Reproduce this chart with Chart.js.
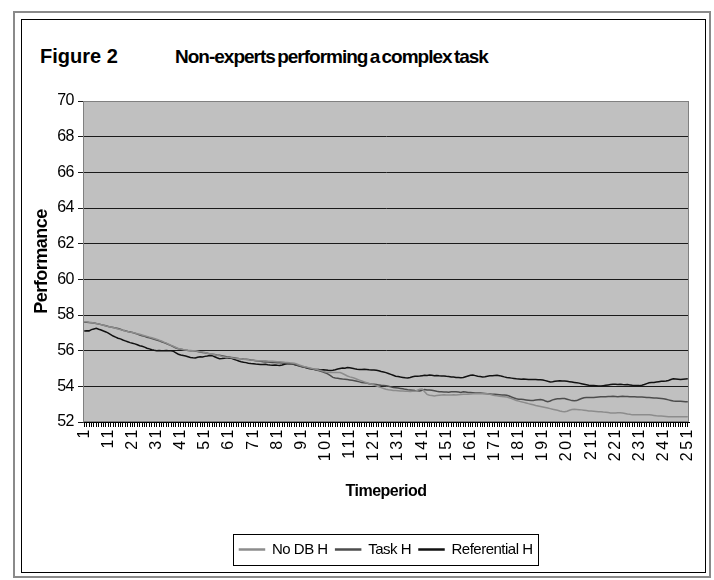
<!DOCTYPE html>
<html>
<head>
<meta charset="utf-8">
<script src="https://cdn.jsdelivr.net/npm/chart.js@4.4.1/dist/chart.umd.min.js"></script>
<style>
  html, body { margin: 0; padding: 0; background: #fff; }
  #wrap { position: relative; width: 714px; height: 580px; overflow: hidden; }
  #frameOuter { position: absolute; left: 13px; top: 11px; width: 694px; height: 563px; border: 2px solid #8a8a8a; }
  #frameInner { position: absolute; left: 21px; top: 19px; width: 683px; height: 552px; border: 1px solid #000; }
  .head { position: absolute; font-family: "Liberation Sans", Arial, sans-serif; font-weight: bold; color: #000; white-space: nowrap; }
  #fig { left: 40px; top: 45px; font-size: 20px; }
  #sub { left: 175px; top: 46px; font-size: 19px; letter-spacing: -1px; word-spacing: -2px; }
  #chart { position: absolute; left: 0; top: 0; }
</style>
</head>
<body>
<div id="wrap">
  <div id="frameOuter"></div>
  <div id="frameInner"></div>
  <div class="head" id="fig">Figure 2</div>
  <div class="head" id="sub">Non-experts performing a complex task</div>
  <canvas id="chart" width="714" height="580"></canvas>
</div>
<script>
const periods = Array.from({ length: 251 }, (_, i) => String(i + 1));
const shownPeriods = ["1", "11", "21", "31", "41", "51", "61", "71", "81", "91", "101", "111", "121",
  "131", "141", "151", "161", "171", "181", "191", "201", "211", "221", "231", "241", "251"];
const yTicks = [52, 54, 56, 58, 60, 62, 64, 66, 68, 70];
const seriesNames = ["No DB H", "Task H", "Referential H"];
const seriesColors = ["#8c8c8c", "#4d4d4d", "#111111"];

const noDbH = [
  57.62, 57.62, 57.60, 57.58, 57.55, 57.52, 57.49, 57.46, 57.42, 57.39,
  57.36, 57.33, 57.30, 57.26, 57.22, 57.18, 57.14, 57.10, 57.07, 57.04,
  57.02, 56.99, 56.95, 56.92, 56.88, 56.84, 56.80, 56.76, 56.72, 56.68,
  56.64, 56.59, 56.54, 56.48, 56.42, 56.36, 56.30, 56.24, 56.18, 56.12,
  56.09, 56.06, 56.04, 56.02, 56.01, 56.00, 56.00, 55.97, 55.94, 55.92,
  55.90, 55.86, 55.83, 55.80, 55.77, 55.74, 55.71, 55.68, 55.65, 55.62,
  55.61, 55.60, 55.58, 55.56, 55.55, 55.54, 55.52, 55.50, 55.49, 55.47,
  55.46, 55.45, 55.44, 55.44, 55.43, 55.44, 55.42, 55.41, 55.40, 55.39,
  55.38, 55.38, 55.37, 55.35, 55.34, 55.32, 55.31, 55.30, 55.25, 55.20,
  55.15, 55.11, 55.08, 55.05, 55.02, 54.98, 54.95, 54.92, 54.88, 54.84,
  54.80, 54.79, 54.78, 54.77, 54.77, 54.78, 54.77, 54.72, 54.65, 54.58,
  54.53, 54.50, 54.45, 54.40, 54.35, 54.30, 54.25, 54.20, 54.16, 54.12,
  54.08, 54.03, 53.98, 53.93, 53.88, 53.84, 53.81, 53.79, 53.77, 53.76,
  53.75, 53.74, 53.74, 53.73, 53.72, 53.71, 53.72, 53.72, 53.78, 53.84,
  53.85, 53.70, 53.55, 53.50, 53.48, 53.46, 53.48, 53.50, 53.52, 53.53,
  53.52, 53.51, 53.52, 53.53, 53.52, 53.53, 53.54, 53.55, 53.56, 53.56,
  53.57, 53.58, 53.58, 53.59, 53.58, 53.58, 53.58, 53.58, 53.55, 53.52,
  53.49, 53.47, 53.45, 53.43, 53.42, 53.40, 53.36, 53.31, 53.26, 53.21,
  53.17, 53.13, 53.10, 53.07, 53.03, 53.00, 52.97, 52.93, 52.90, 52.87,
  52.84, 52.81, 52.78, 52.75, 52.72, 52.69, 52.66, 52.62, 52.59, 52.57,
  52.60, 52.66, 52.70, 52.71, 52.70, 52.69, 52.68, 52.66, 52.64, 52.62,
  52.61, 52.60, 52.59, 52.58, 52.58, 52.56, 52.55, 52.53, 52.51, 52.50,
  52.51, 52.52, 52.52, 52.50, 52.48, 52.45, 52.43, 52.40, 52.40, 52.41,
  52.41, 52.40, 52.41, 52.40, 52.40, 52.39, 52.37, 52.35, 52.34, 52.33,
  52.32, 52.31, 52.30, 52.30, 52.30, 52.30, 52.30, 52.30, 52.30, 52.30,
  52.30
];

const taskH = [
  57.60, 57.60, 57.58, 57.57, 57.55, 57.52, 57.50, 57.46, 57.43, 57.40,
  57.36, 57.33, 57.30, 57.27, 57.24, 57.20, 57.15, 57.12, 57.08, 57.05,
  57.02, 56.98, 56.93, 56.88, 56.84, 56.80, 56.75, 56.72, 56.68, 56.64,
  56.60, 56.56, 56.50, 56.45, 56.40, 56.34, 56.28, 56.22, 56.15, 56.10,
  56.08, 56.05, 56.03, 56.01, 56.00, 55.99, 55.98, 55.95, 55.92, 55.90,
  55.88, 55.85, 55.82, 55.80, 55.78, 55.76, 55.75, 55.72, 55.69, 55.66,
  55.64, 55.62, 55.60, 55.58, 55.56, 55.55, 55.53, 55.52, 55.50, 55.48,
  55.46, 55.44, 55.42, 55.40, 55.38, 55.37, 55.36, 55.35, 55.34, 55.33,
  55.32, 55.32, 55.31, 55.30, 55.28, 55.26, 55.25, 55.24, 55.20, 55.15,
  55.10, 55.07, 55.05, 55.02, 54.99, 54.96, 54.92, 54.88, 54.84, 54.80,
  54.75, 54.68, 54.60, 54.50, 54.47, 54.45, 54.43, 54.41, 54.40, 54.38,
  54.36, 54.34, 54.31, 54.28, 54.25, 54.22, 54.20, 54.18, 54.15, 54.13,
  54.12, 54.10, 54.08, 54.06, 54.05, 54.03, 54.00, 53.97, 53.94, 53.92,
  53.90, 53.88, 53.86, 53.83, 53.81, 53.80, 53.78, 53.76, 53.75, 53.74,
  53.78, 53.82, 53.80, 53.79, 53.78, 53.75, 53.72, 53.70, 53.69, 53.68,
  53.68, 53.67, 53.69, 53.69, 53.70, 53.68, 53.66, 53.70, 53.68, 53.66,
  53.65, 53.64, 53.63, 53.62, 53.62, 53.61, 53.60, 53.58, 53.57, 53.56,
  53.55, 53.54, 53.53, 53.52, 53.51, 53.50, 53.46, 53.40, 53.35, 53.30,
  53.28, 53.27, 53.26, 53.24, 53.22, 53.20, 53.21, 53.23, 53.25, 53.26,
  53.24, 53.18, 53.14, 53.18, 53.24, 53.28, 53.30, 53.31, 53.32, 53.32,
  53.28, 53.24, 53.20, 53.19, 53.20, 53.26, 53.32, 53.36, 53.37, 53.37,
  53.38, 53.38, 53.39, 53.40, 53.41, 53.42, 53.42, 53.43, 53.43, 53.44,
  53.43, 53.42, 53.43, 53.44, 53.43, 53.43, 53.42, 53.41, 53.41, 53.40,
  53.40, 53.40, 53.39, 53.38, 53.37, 53.36, 53.35, 53.34, 53.33, 53.32,
  53.30, 53.27, 53.24, 53.21, 53.18, 53.17, 53.17, 53.16, 53.15, 53.14,
  53.14
];

const referentialH = [
  57.10, 57.12, 57.11, 57.18, 57.22, 57.25, 57.20, 57.16, 57.10, 57.05,
  56.98, 56.90, 56.82, 56.76, 56.70, 56.66, 56.60, 56.55, 56.50, 56.45,
  56.42, 56.38, 56.33, 56.28, 56.25, 56.20, 56.14, 56.10, 56.05, 56.02,
  56.00, 56.01, 56.00, 55.99, 56.01, 56.00, 56.00, 55.96, 55.88, 55.80,
  55.76, 55.73, 55.70, 55.66, 55.62, 55.60, 55.59, 55.63, 55.66, 55.64,
  55.68, 55.70, 55.73, 55.72, 55.66, 55.60, 55.55, 55.56, 55.58, 55.60,
  55.58, 55.57, 55.52, 55.47, 55.42, 55.38, 55.35, 55.33, 55.30, 55.28,
  55.27, 55.25, 55.24, 55.23, 55.22, 55.24, 55.21, 55.19, 55.18, 55.20,
  55.18, 55.17, 55.20, 55.24, 55.27, 55.28, 55.26, 55.22, 55.18, 55.15,
  55.12, 55.08, 55.04, 55.00, 54.98, 54.96, 54.95, 54.94, 54.92, 54.93,
  54.92, 54.90, 54.89, 54.90, 54.93, 54.97, 55.00, 55.03, 55.02, 55.05,
  55.04, 55.01, 54.98, 54.96, 54.95, 54.94, 54.96, 54.95, 54.93, 54.92,
  54.92, 54.90, 54.87, 54.83, 54.80, 54.77, 54.72, 54.67, 54.62, 54.57,
  54.55, 54.52, 54.50, 54.48, 54.47, 54.50, 54.54, 54.56, 54.57, 54.58,
  54.60, 54.62, 54.61, 54.63, 54.62, 54.60, 54.61, 54.59, 54.58, 54.58,
  54.56, 54.55, 54.53, 54.52, 54.50, 54.49, 54.48, 54.50, 54.54, 54.58,
  54.62, 54.63, 54.60, 54.57, 54.55, 54.52, 54.54, 54.57, 54.59, 54.60,
  54.61, 54.62, 54.60, 54.57, 54.53, 54.50, 54.48, 54.46, 54.44, 54.42,
  54.41, 54.40, 54.41, 54.40, 54.39, 54.38, 54.39, 54.38, 54.37, 54.37,
  54.35, 54.32, 54.28, 54.25, 54.26, 54.28, 54.30, 54.31, 54.30, 54.30,
  54.28, 54.26, 54.24, 54.22, 54.20, 54.18, 54.15, 54.12, 54.09, 54.06,
  54.05, 54.04, 54.03, 54.02, 54.02, 54.04, 54.06, 54.08, 54.10, 54.12,
  54.11, 54.10, 54.12, 54.10, 54.09, 54.10, 54.08, 54.06, 54.05, 54.04,
  54.04, 54.06, 54.10, 54.15, 54.20, 54.21, 54.22, 54.24, 54.26, 54.28,
  54.29, 54.30, 54.33, 54.38, 54.42, 54.41, 54.40, 54.39, 54.40, 54.41,
  54.42
];

const fontName = "'Liberation Sans', Arial, sans-serif";

// grey plot area, its frame, the box round the legend, and the squeezed / stretched text
const plotFrame = {
  id: "plotFrame",
  beforeUpdate(chart) {
    chart.ctx.letterSpacing = "-0.5px";
  },
  beforeDraw(chart) {
    const { ctx, chartArea: a } = chart;
    ctx.letterSpacing = "-0.5px";
    ctx.save();
    ctx.fillStyle = "#c0c0c0";
    ctx.fillRect(a.left, a.top, a.width, a.height);
    ctx.restore();
  },
  beforeDatasetsDraw(chart) {
    const { ctx, chartArea: a } = chart;
    ctx.save();
    ctx.strokeStyle = "#808080";
    ctx.lineWidth = 1;
    ctx.strokeRect(Math.round(a.left) + 0.5, Math.round(a.top) + 0.5, Math.round(a.width) - 1, Math.round(a.height) - 1);
    ctx.restore();
  },
  afterDatasetsDraw(chart) {
    // x tick labels are drawn after this (z: 1), stretched like the original
    chart.ctx.letterSpacing = "2.5px";
  },
  afterDraw(chart) {
    const ctx = chart.ctx;
    ctx.letterSpacing = "0px";
    const boxes = chart.legend.legendHitBoxes;
    if (!boxes.length) return;
    const left = Math.min(...boxes.map((b) => b.left)) - 6;
    const right = Math.max(...boxes.map((b) => b.left + b.width)) + 6;
    const top = boxes[0].top - 8;
    const bottom = boxes[0].top + boxes[0].height + 8;
    ctx.save();
    ctx.strokeStyle = "#000";
    ctx.lineWidth = 1;
    ctx.strokeRect(Math.round(left) + 0.5, Math.round(top) + 0.5, Math.round(right - left), Math.round(bottom - top));
    ctx.restore();
  },
};

const values = [noDbH, taskH, referentialH];

new Chart(document.getElementById("chart"), {
  type: "line",
  data: {
    labels: periods,
    datasets: seriesNames.map((name, i) => ({
      label: name,
      data: values[i],
      borderColor: seriesColors[i],
      backgroundColor: seriesColors[i],
      borderWidth: 1.5,
      pointRadius: 0,
      tension: 0,
    })),
  },
  options: {
    responsive: false,
    animation: false,
    layout: { padding: { left: 25, right: 25, top: 101, bottom: 13 } },
    plugins: {
      legend: {
        position: "bottom",
        fullSize: false,
        labels: {
          color: "#000",
          boxWidth: 25,
          boxHeight: 1,
          padding: 8,
          font: { family: fontName, size: 15 },
        },
      },
      tooltip: { enabled: false },
    },
    scales: {
      x: {
        offset: true,
        afterFit: (scale) => { scale.height = 112; },
        grid: { drawOnChartArea: false, color: "#000", tickLength: 5 },
        border: { color: "#000" },
        ticks: {
          z: 1,
          autoSkip: false,
          minRotation: 90,
          maxRotation: 90,
          padding: 0,
          color: "#000",
          font: { family: fontName, size: 16 },
          callback: function (value) {
            const lab = this.getLabelForValue(value);
            return shownPeriods.includes(lab) ? lab : "";
          },
        },
        title: {
          display: true,
          text: "Timeperiod",
          color: "#000",
          font: { family: fontName, size: 16, weight: "bold" },
          padding: { top: 0, bottom: 33 },
        },
      },
      y: {
        min: 52,
        max: 70,
        afterFit: (scale) => { scale.width = 58; },
        afterBuildTicks: (scale) => { scale.ticks = yTicks.map((v) => ({ value: v })); },
        grid: { color: "#1a1a1a", tickLength: 5 },
        border: { color: "#404040" },
        ticks: {
          padding: 4,
          color: "#000",
          font: { family: fontName, size: 16 },
        },
        title: {
          display: true,
          text: "Performance",
          color: "#000",
          font: { family: fontName, size: 18, weight: "bold" },
          padding: { top: 6, bottom: 0 },
        },
      },
    },
  },
  plugins: [plotFrame],
});
</script>
</body>
</html>
